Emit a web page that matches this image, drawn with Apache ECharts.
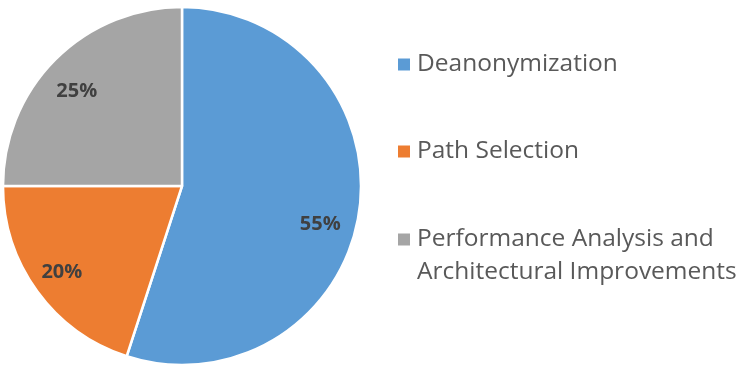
<!DOCTYPE html>
<html>
<head>
<meta charset="utf-8">
<script src="https://cdn.jsdelivr.net/npm/echarts@6/dist/echarts.min.js"></script>
<style>
  html, body { margin: 0; padding: 0; background: #fff; }
  #chart { width: 747px; height: 375px; }
</style>
</head>
<body>
<div id="chart"></div>
<script>
const categories = ['Deanonymization', 'Path Selection', 'Performance Analysis and\nArchitectural Improvements']
const shares = [55, 20, 25]
const colors = ['#5B9BD5', '#ED7D31', '#A5A5A5']

// small nudges so the percent labels sit where the original put them
const labelOffsets = [[-6, 15], [-2, 0], [-2, 9]]

const font = '"Open Sans", sans-serif'
const pieData = categories.map((name, i) => ({ name, value: shares[i] }))

const legendText = {
  fontFamily: font, fontSize: 24.5, color: '#595959', lineHeight: 33,
  rich: {
    t: { fontFamily: font, fontSize: 24.5, color: '#595959', lineHeight: 33, padding: [0, 0, 0, 1] },
    gap: { fontSize: 1, lineHeight: 33 }
  }
}

const chart = echarts.init(document.getElementById('chart'))
chart.setOption({
  animation: false,
  color: colors,
  legend: [{
    orient: 'vertical',
    left: 391,
    top: 43,
    itemWidth: 14,
    itemHeight: 14,
    itemGap: 54,
    icon: 'rect',
    data: categories.slice(0, 2),
    formatter: name => '{t|' + name + '}',
    textStyle: legendText
  }, {
    orient: 'vertical',
    left: 391,
    top: 185,
    itemWidth: 14,
    itemHeight: 14,
    icon: 'rect',
    data: [categories[2]],
    // empty first line lifts the marker up to the first text line
    formatter: name => '{gap| }\n' + name.split('\n').map(s => '{t|' + s + '}').join('\n'),
    textStyle: legendText
  }],
  series: [{
    name: 'share',
    type: 'pie',
    center: [182, 186],
    radius: 179,
    startAngle: 90,
    clockwise: true,
    data: pieData,
    itemStyle: { borderColor: '#fff', borderWidth: 2.5 },
    label: { show: false },
    labelLine: { show: false }
  }, {
    // transparent ring only to place the percent labels further out
    name: 'labels',
    type: 'pie',
    silent: true,
    center: [182, 186],
    radius: [107, 179],
    startAngle: 90,
    clockwise: true,
    data: pieData.map((d, i) => ({ ...d, label: { offset: labelOffsets[i] } })),
    itemStyle: { color: 'rgba(0,0,0,0)' },
    label: {
      show: true,
      position: 'inside',
      formatter: p => p.value + '%',
      fontFamily: font,
      fontSize: 20,
      fontWeight: 'bold',
      color: '#404040'
    },
    labelLine: { show: false }
  }]
})
</script>
</body>
</html>
